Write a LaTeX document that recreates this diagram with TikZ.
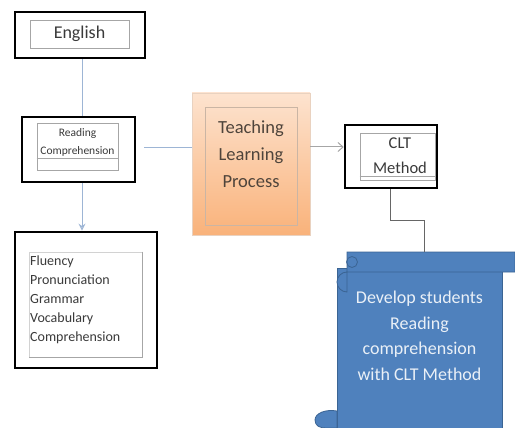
\documentclass[tikz,border=0pt]{standalone}
\usepackage{fontspec}
\setmainfont{Carlito}
\usetikzlibrary{arrows.meta,shadows}
\definecolor{linkblue}{HTML}{9DB5D5}
\definecolor{scrollblue}{HTML}{4F81BD}
\definecolor{scrolldark}{HTML}{3B6493}
\definecolor{peachtop}{HTML}{FDE3CF}
\definecolor{peachbot}{HTML}{F9B27A}
\definecolor{txtgray}{HTML}{3A3A3A}
\tikzset{
  outerbox/.style={draw=black, line width=2.6pt, fill=white, inner sep=0pt},
  innerbox/.style={draw=gray!70, line width=0.6pt, inner sep=0pt, text=txtgray, align=center},
  link/.style={draw=linkblue, line width=1pt},
}
\begin{document}
\begin{tikzpicture}[x=1pt,y=-1pt]
\useasboundingbox (0,0) rectangle (515,428);
% English
\node[outerbox, minimum width=130, minimum height=46] (eng) at (80,35) {};
\node[innerbox, minimum width=99, minimum height=28, font=\fontsize{18}{20}\selectfont] (engi) at (79.5,34) {English};
% Reading comprehension
\node[outerbox, minimum width=113, minimum height=65] (read) at (78.5,149.5) {};
\node[innerbox, minimum width=81, minimum height=47] (readi) at (77.5,146.5) {};
\draw[gray!70, line width=0.6pt] (readi.west |- 0,158) -- (readi.east |- 0,158);
\node[text=txtgray, align=center, inner sep=0pt, font=\fontsize{11.5}{18}\selectfont] (readt) at (77.5,142) {Reading\\Comprehension};
% Fluency list
\node[outerbox, minimum width=142, minimum height=136] (flu) at (86,300) {};
\node[innerbox, draw=gray!35, minimum width=113, minimum height=105] (flui) at (85.5,304.5) {};
\draw[gray!70, line width=0.7pt] (flui.north east) -- (flui.south east) -- (flui.south west);
\node[text=txtgray, align=left, anchor=north west, inner sep=0pt, font=\fontsize{14}{19}\selectfont] (flut) at (30,256) {Fluency\\Pronunciation\\Grammar\\Vocabulary\\Comprehension};
% Teaching learning process
\node[draw=peachbot!80!black!40, line width=0.8pt, top color=peachtop, bottom color=peachbot, minimum width=118, minimum height=142, inner sep=0pt, drop shadow={shadow xshift=0pt, shadow yshift=0pt, opacity=0.35, fill=peachbot}] (tlp) at (251,164) {};
\node[draw=peachbot!60!black!50, line width=0.6pt, minimum width=92, minimum height=118, inner sep=0pt] (tlpi) at (251,166) {};
\node[text=txtgray!85!brown, align=center, inner sep=0pt, font=\fontsize{18.5}{27}\selectfont] (tlpt) at (251,154) {Teaching\\Learning\\Process};
% CLT method
\node[outerbox, minimum width=92, minimum height=63] (clt) at (391,156.5) {};
\node[innerbox, minimum width=75, minimum height=47] (clti) at (397.5,156.5) {};
\draw[gray!70, line width=0.6pt] (clti.west |- 0,176.5) -- (clti.east |- 0,176.5);
\node[text=txtgray, align=center, inner sep=0pt, font=\fontsize{16.5}{25}\selectfont] (cltt) at (400,156) {CLT\\Method};
% connectors
\draw[link] (eng.south -| 82,0) -- (read.north -| 82,0);
\draw[link] (read.east) ++(8,-1.5) coordinate (r1) -- (tlp.west |- r1);
\draw[link, -{Stealth[length=7pt,width=7pt,open,fill=white]}] (read.south -| 82,0) -- (flu.north -| 82,0);
\draw[draw=gray!70, line width=1pt, -{Straight Barb[length=5pt,width=9pt]}] (tlp.east |- 0,147) -- (clt.west |- 0,147);
% scroll
\begin{scope}[draw=scrolldark, line width=0.8pt, fill=scrollblue]
  \filldraw (337,268) -- (337,428) -- (502,428) -- (502,268) -- cycle;
  \filldraw (337,428) -- (337,411) .. controls (326,409) and (315,413) .. (315,420) .. controls (315,426) and (320,428) .. (326,428) -- cycle;
  \filldraw (347,252) -- (515,252) -- (515,272) -- (347,272) arc[start angle=270, end angle=90, radius=10] -- cycle;
  \draw (352,262) circle[radius=5.5];
\end{scope}
\node[text=white!88!scrollblue, align=center, inner sep=0pt, font=\fontsize{18}{25.5}\selectfont] (goal) at (419.5,336) {Develop students\\Reading\\comprehension\\with CLT Method};
\coordinate (c3) at (424,252);
\draw[draw=gray!80!black, line width=0.7pt] (clt.south -| 390,0) -- (390,220) coordinate (c1) -- (424,220) coordinate (c2) -- (c3);
\end{tikzpicture}
\end{document}
